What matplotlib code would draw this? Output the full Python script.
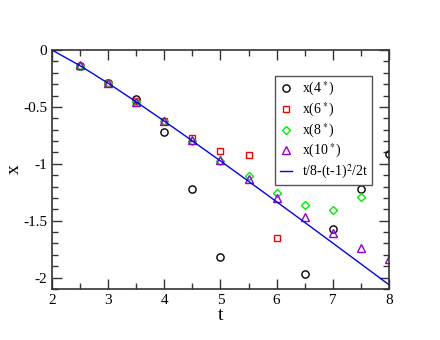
import matplotlib
matplotlib.use("Agg")
import matplotlib.pyplot as plt
from matplotlib.ticker import MultipleLocator

t4 = [2.5, 3.0, 3.5, 4.0, 4.5, 5.0, 6.5, 7.0, 7.5, 8.0]
x4 = [-0.14, -0.29, -0.43, -0.72, -1.22, -1.82, -1.965, -1.57, -1.225, -0.915]

t6 = [2.5, 3.0, 3.5, 4.0, 4.5, 5.0, 5.5, 6.0]
x6 = [-0.14, -0.29, -0.45, -0.62, -0.77, -0.89, -0.92, -1.655]

t8 = [2.5, 3.0, 3.5, 4.0, 4.5, 5.0, 5.5, 6.0, 6.5, 7.0, 7.5]
x8 = [-0.14, -0.29, -0.455, -0.625, -0.80, -0.975, -1.11, -1.255, -1.36, -1.405, -1.295]

t10 = [2.5, 3.0, 3.5, 4.0, 4.5, 5.0, 5.5, 6.0, 6.5, 7.0, 7.5, 8.0]
x10 = [-0.135, -0.29, -0.455, -0.62, -0.795, -0.97, -1.13, -1.30, -1.465, -1.605, -1.74, -1.84]

t_line = [2.0, 2.5, 3.0, 3.5, 4.0, 4.5, 5.0, 5.5, 6.0, 6.5, 7.0, 7.5, 8.0]
x_line = [0.0, -0.1375, -0.2917, -0.4554, -0.625, -0.7986, -0.975, -1.1534,
          -1.3333, -1.5144, -1.6964, -1.8792, -2.0625]

plt.rcParams['font.family'] = ['Liberation Serif', 'DejaVu Serif']
plt.rcParams['mathtext.fontset'] = 'stix'

fig = plt.figure(figsize=(4.4, 3.4), dpi=100)
ax = fig.add_axes([0.118, 0.15, 0.766, 0.703])

ms = 5.2
ax.plot(t4, x4, 'o', mfc='none', mec='black', ms=ms, mew=1.0, label=r'x(4$^*$)')
ax.plot(t6, x6, 's', mfc='none', mec='red', ms=ms - 0.4, mew=1.0, label=r'x(6$^*$)')
ax.plot(t8, x8, 'D', mfc='none', mec='#00ee00', ms=ms - 0.8, mew=1.0, label=r'x(8$^*$)')
ax.plot(t10, x10, '^', mfc='none', mec='#9400d3', ms=ms + 0.4, mew=1.0, label=r'x(10$^*$)')
ax.plot(t_line, x_line, '-', color='#0000ff', lw=1.0, label=r't/8-(t-1)$^2$/2t')

ax.set_xlim(2, 8)
ax.set_ylim(-2.1, 0)
ax.xaxis.set_major_locator(MultipleLocator(1))
ax.xaxis.set_minor_locator(MultipleLocator(0.5))
ax.yaxis.set_minor_locator(MultipleLocator(0.1))
ax.set_yticks([0, -0.5, -1, -1.5, -2])
ax.set_yticklabels(['0', '-0.5', '-1', '-1.5', '-2'])
ax.tick_params(which='both', direction='in', top=True, right=True, labelsize=11, color='#333333')
ax.tick_params(which='major', length=7, width=1)
ax.tick_params(which='minor', length=4, width=1)
for s in ax.spines.values():
    s.set_linewidth(1.2)
    s.set_color('#333333')

ax.set_xlabel('t', fontsize=14, labelpad=0)
ax.set_ylabel('x', fontsize=14)
ax.yaxis.set_label_coords(-0.085, 0.5)

leg = ax.legend(loc='upper right', bbox_to_anchor=(0.95, 0.891), borderaxespad=0,
                fontsize=10, fancybox=False, framealpha=1, edgecolor='#555555',
                handlelength=0.9, handletextpad=0.7, borderpad=0.3, labelspacing=0.18)
leg.get_frame().set_linewidth(1.0)

fig.savefig('out.png', dpi=100)
